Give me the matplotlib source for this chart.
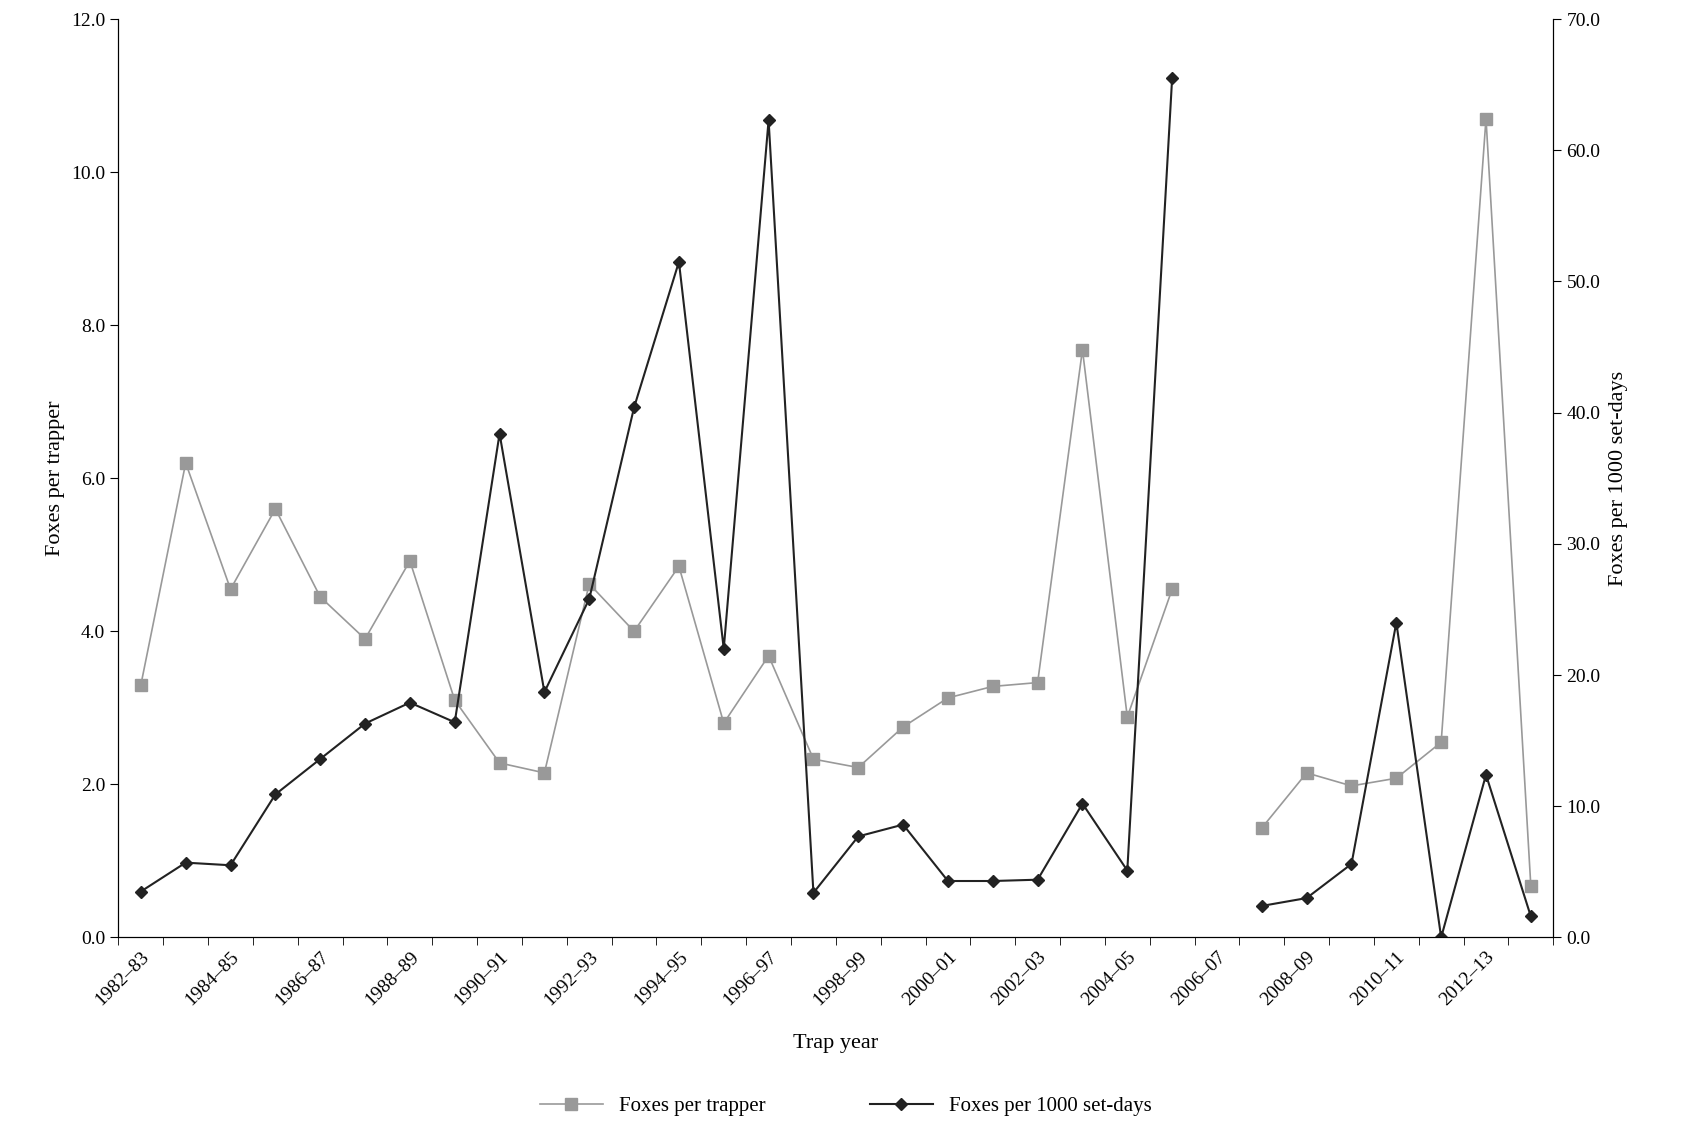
import matplotlib.pyplot as plt
import numpy as np

plt.rcParams['font.family'] = ['Liberation Serif', 'DejaVu Serif']

years = ["%d\u2013%02d" % (y, (y + 1) % 100) for y in range(1982, 2014)]
per_trapper = [3.3, 6.2, 4.55, 5.6, 4.45, 3.9, 4.92, 3.1, 2.28, 2.15, 4.62, 4.0,
               4.85, 2.8, 3.68, 2.33, 2.22, 2.75, 3.13, 3.28, 3.33, 7.68, 2.88, 4.55,
               np.nan, 1.43, 2.15, 1.98, 2.08, 2.55, 10.7, 0.67]
per_1000 = [3.5, 5.7, 5.5, 10.9, 13.6, 16.3, 17.9, 16.4, 38.4, 18.7, 25.8, 40.4,
            51.5, 22.0, 62.3, 3.4, 7.7, 8.6, 4.3, 4.3, 4.4, 10.2, 5.1, 65.5,
            np.nan, 2.4, 3.0, 5.6, 24.0, 0.0, 12.4, 1.6]

x = np.arange(len(years))
fig = plt.figure(figsize=(16.92, 11.24), dpi=100)
ax = fig.add_axes([0.070, 0.166, 0.848, 0.817])
ax2 = ax.twinx()

l1, = ax.plot(x, per_trapper, color='#999999', marker='s', markersize=9, lw=1.2,
              label='Foxes per trapper')
l2, = ax2.plot(x, per_1000, color='#222222', marker='D', markersize=6, lw=1.5,
               label='Foxes per 1000 set-days')

ax.set_xlim(-0.5, len(years) - 0.5)
ax.set_ylim(0, 12)
ax.set_yticks(np.arange(0, 12.1, 2))
ax.set_yticklabels(["%.1f" % v for v in np.arange(0, 12.1, 2)], fontsize=14)
ax2.set_ylim(0, 70)
ax2.set_yticks(np.arange(0, 70.1, 10))
ax2.set_yticklabels(["%.1f" % v for v in np.arange(0, 70.1, 10)], fontsize=14)

ax.set_xticks(np.arange(-0.5, len(years), 1), minor=True)
ax.set_xticks(x[::2])
ax.set_xticklabels(years[::2], rotation=45, ha='right', rotation_mode='anchor', fontsize=14)
ax.tick_params(axis='x', which='major', length=0, pad=8)
ax.tick_params(axis='x', which='minor', length=6, direction='out')
for a in (ax, ax2):
    a.spines['top'].set_visible(False)
    a.tick_params(axis='y', direction='out', length=6)

ax.set_xlabel('Trap year', fontsize=16, labelpad=18)
ax.set_ylabel('Foxes per trapper', fontsize=16, labelpad=4)
ax2.set_ylabel('Foxes per 1000 set-days', fontsize=16, labelpad=6)

fig.legend(handles=[l1, l2], loc='lower center', ncol=2, frameon=False, fontsize=15,
           bbox_to_anchor=(0.5, -0.01), columnspacing=5, handlelength=3)

fig.savefig('out.png', dpi=100)
